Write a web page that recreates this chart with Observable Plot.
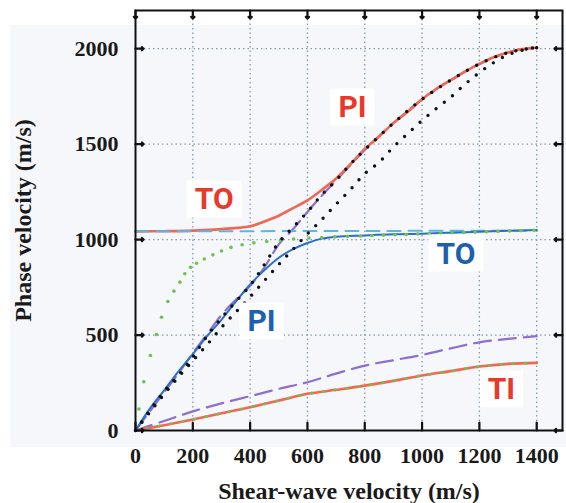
<!DOCTYPE html>
<html><head><meta charset="utf-8">
<script src="https://cdn.jsdelivr.net/npm/d3@7"></script>
<script src="https://cdn.jsdelivr.net/npm/@observablehq/plot@0.6"></script>
<style>body{margin:0;background:#fff;} #chart{width:566px;height:503px;}</style>
</head><body><div id="chart"></div>
<script>
// ---- data ----
const xTicks = [0, 200, 400, 600, 800, 1000, 1200, 1400];
const yTicks = [0, 500, 1000, 1500, 2000];

// red solid, upper branch (TO -> PI)
const redUpperX = [0, 100, 200, 300, 400, 450, 500, 550, 600, 650, 700, 750, 800, 850, 900, 950, 1000, 1050, 1100, 1150, 1200, 1250, 1300, 1350, 1400];
const redUpperY = [1043, 1044, 1047, 1055, 1070, 1095, 1125, 1165, 1205, 1260, 1320, 1395, 1475, 1540, 1610, 1670, 1735, 1790, 1835, 1880, 1920, 1955, 1980, 1998, 2005];

// purple dashed, upper branch
const purpleUpperX = [0, 50, 100, 150, 200, 250, 300, 350, 400, 450, 500, 550, 600, 650, 700, 750, 800, 900, 1000, 1100, 1200, 1300, 1400];
const purpleUpperY = [0, 100, 200, 300, 405, 505, 605, 685, 758, 855, 975, 1055, 1145, 1230, 1310, 1390, 1470, 1610, 1735, 1835, 1920, 1980, 2005];

// black dotted A (upper-left)
const blackAX = [0, 50, 100, 150, 200, 250, 300, 350, 400, 450, 500, 550, 600, 650, 700, 750, 800, 900, 1000, 1100, 1200, 1300, 1400];
const blackAY = [0, 105, 205, 290, 385, 495, 590, 675, 760, 870, 985, 1065, 1145, 1235, 1310, 1395, 1470, 1610, 1735, 1835, 1920, 1980, 2005];

// black dotted B (lower-right)
const blackBX = [0, 50, 100, 150, 200, 250, 300, 350, 400, 450, 500, 550, 600, 650, 700, 750, 800, 850, 900, 950, 1000, 1050, 1100, 1150, 1200, 1250, 1300, 1350, 1400];
const blackBY = [0, 95, 190, 280, 365, 450, 540, 620, 700, 785, 870, 950, 1030, 1105, 1185, 1262, 1345, 1405, 1485, 1555, 1624, 1687, 1746, 1814, 1875, 1927, 1968, 1992, 2008];

// blue solid (PI -> TO)
const blueX = [0, 50, 100, 150, 200, 250, 300, 350, 400, 450, 500, 550, 600, 650, 700, 800, 900, 1000, 1100, 1200, 1300, 1400];
const blueY = [0, 115, 210, 310, 400, 495, 580, 675, 765, 840, 905, 950, 982, 1005, 1015, 1022, 1028, 1031, 1036, 1041, 1046, 1050];

// light-blue dashed (flat)
const cyanX = [0, 1400];
const cyanY = [1043, 1047];

// green dots, upper
const greenX = [12, 29, 52, 73, 91, 113, 134, 155, 172, 192, 213, 240, 270, 300, 333, 372, 413, 458, 506, 552, 605, 650, 695, 740, 785, 825, 865, 905, 945, 985, 1025, 1065, 1105, 1145, 1185, 1225, 1265, 1305, 1345, 1390];
const greenY = [113, 255, 393, 503, 593, 676, 730, 777, 821, 855, 876, 898, 920, 940, 959, 973, 983, 990, 997, 1003, 1008, 1011, 1014, 1017, 1019, 1021, 1023, 1025, 1027, 1029, 1031, 1033, 1035, 1037, 1039, 1041, 1043, 1045, 1047, 1049];

// TI: red solid with green dots
const tiX = [0, 100, 200, 300, 400, 500, 600, 700, 800, 900, 1000, 1100, 1200, 1300, 1400];
const tiY = [0, 28, 58, 90, 122, 157, 192, 213, 235, 260, 288, 311, 335, 349, 354];

// purple dashed, lower
const purpleLowX = [0, 100, 200, 300, 400, 500, 600, 700, 800, 900, 1000, 1100, 1200, 1300, 1400];
const purpleLowY = [0, 50, 100, 142, 180, 218, 253, 298, 340, 368, 396, 430, 462, 480, 494];

// curve labels
const labelText = ["TO", "PI", "TO", "PI", "TI"];
const labelX = [275, 757, 1118, 440, 1277];
const labelY = [1208, 1690, 925, 569, 213];
const labelColor = ["#e8392a", "#e8392a", "#1c60ae", "#1c60ae", "#e8392a"];

const xLabel = "Shear-wave velocity (m/s)";
const yLabel = "Phase velocity (m/s)";

(function () {
  const zip = (xs, ys) => xs.map((x, i) => ({x, y: ys[i]}));
  const labels = labelText.map((t, i) => ({t, x: labelX[i], y: labelY[i], c: labelColor[i]}));

  const RED = "#f26652", BLUE = "#2a6fc9", PURPLE = "#8d6fd1", CYAN = "#55b9e6", GREEN = "#6fc34c", BLACK = "#111";
  const gridStyle = {stroke: "#849cb0", strokeOpacity: 1, strokeDasharray: "1.5,3", strokeWidth: 1.3};
  const fmt = d => String(d);

  // inward tick marks as vector marks in px offsets from the frame edges
  const tickOpts = {stroke: "#111", strokeWidth: 2.2, length: 8};

  const plot = Plot.plot({
    width: 566, height: 503,
    marginLeft: 135, marginRight: 4, marginTop: 10, marginBottom: 73,
    x: {domain: [0, 1490]},
    y: {domain: [0, 2200]},
    style: {fontFamily: "'Liberation Serif', 'Times New Roman', serif", fontSize: "22px", fontWeight: "bold", color: "#1a1a1a", background: "transparent"},
    marks: [
      Plot.gridX(xTicks.slice(1), gridStyle),
      Plot.gridY(yTicks.slice(1), gridStyle),
      Plot.line(zip(purpleLowX, purpleLowY), {x: "x", y: "y", stroke: PURPLE, strokeWidth: 2.2, strokeDasharray: "17,8", curve: "catmull-rom"}),
      Plot.line(zip(tiX, tiY), {x: "x", y: "y", stroke: RED, strokeWidth: 2.6, curve: "catmull-rom"}),
      Plot.line(zip(tiX, tiY), {x: "x", y: "y", stroke: GREEN, strokeWidth: 3.2, strokeDasharray: "0,12", strokeLinecap: "round", curve: "catmull-rom"}),
      Plot.line(zip(purpleUpperX, purpleUpperY), {x: "x", y: "y", stroke: PURPLE, strokeWidth: 2.2, strokeDasharray: "17,8", curve: "catmull-rom"}),
      Plot.line(zip(redUpperX, redUpperY), {x: "x", y: "y", stroke: RED, strokeWidth: 2.6, curve: "catmull-rom"}),
      Plot.line(zip(cyanX, cyanY), {x: "x", y: "y", stroke: CYAN, strokeWidth: 2, strokeDasharray: "13,8"}),
      Plot.line(zip(blueX, blueY), {x: "x", y: "y", stroke: BLUE, strokeWidth: 2, curve: "catmull-rom"}),
      Plot.dot(zip(greenX, greenY), {x: "x", y: "y", r: 1.8, fill: GREEN, stroke: "none"}),
      Plot.line(zip(blackBX, blackBY), {x: "x", y: "y", stroke: BLACK, strokeWidth: 3.4, strokeDasharray: "0,10.5", strokeLinecap: "round", curve: "catmull-rom"}),
      Plot.line(zip(blackAX, blackAY), {x: "x", y: "y", stroke: BLACK, strokeWidth: 3.4, strokeDasharray: "0,10.5", strokeLinecap: "round", curve: "catmull-rom"}),
      Plot.text(labels, {x: "x", y: "y", text: "t", fill: "c", fontFamily: "Roboto, 'Open Sans', sans-serif", fontSize: 30, fontWeight: 700, lineAnchor: "middle"}),
      Plot.axisX(xTicks, {anchor: "bottom", tickSize: 0, tickPadding: 17, label: null, tickFormat: fmt}),
      Plot.axisY(yTicks, {anchor: "left", tickSize: 0, tickPadding: 17, label: null, tickFormat: fmt}),
      // ticks: vectors anchored on the frame edges, pointing inward
      Plot.vector(xTicks, {x: d => d, frameAnchor: "bottom", rotate: 0, anchor: "start", shape: "spike", r: 0, ...tickOpts, fill: "none"}),
      Plot.vector(xTicks, {x: d => d, frameAnchor: "top", rotate: 180, anchor: "start", ...tickOpts}),
      Plot.vector(yTicks, {y: d => d, frameAnchor: "left", rotate: 90, anchor: "start", ...tickOpts}),
      Plot.vector(yTicks, {y: d => d, frameAnchor: "right", rotate: -90, anchor: "start", ...tickOpts}),
      Plot.text([xLabel], {frameAnchor: "bottom", text: d => d, dy: 61, fontSize: 24, fontWeight: "bold", textAnchor: "middle", lineAnchor: "middle"}),
      Plot.text([yLabel], {frameAnchor: "left", text: d => d, rotate: -90, dx: -112, fontSize: 24, fontWeight: "bold", textAnchor: "middle", lineAnchor: "middle"}),
      Plot.frame({stroke: "#111", strokeWidth: 2})
    ]
  });
  document.getElementById("chart").appendChild(plot);

  const svg = plot.tagName.toLowerCase() === "svg" ? plot : plot.querySelector("svg");
  const ns = "http://www.w3.org/2000/svg";

  // light panel behind the figure, as in the reference scan
  const bg = document.createElementNS(ns, "rect");
  bg.setAttribute("x", 10); bg.setAttribute("y", 25);
  bg.setAttribute("width", 556); bg.setAttribute("height", 422);
  bg.setAttribute("fill", "#f5f7fa");
  svg.insertBefore(bg, svg.firstChild.nextSibling);

  // white boxes behind the curve labels
  svg.querySelectorAll("text").forEach(t => {
    if (!labelText.includes(t.textContent)) return;
    const b = t.getBBox();
    const r = document.createElementNS(ns, "rect");
    r.setAttribute("x", b.x - 8); r.setAttribute("y", b.y - 1);
    r.setAttribute("width", b.width + 16); r.setAttribute("height", b.height + 2);
    r.setAttribute("fill", "#ffffff"); r.setAttribute("stroke", "none");
    if (t.getAttribute("transform")) r.setAttribute("transform", t.getAttribute("transform"));
    t.parentNode.insertBefore(r, t);
  });
})();
</script>
</body></html>
